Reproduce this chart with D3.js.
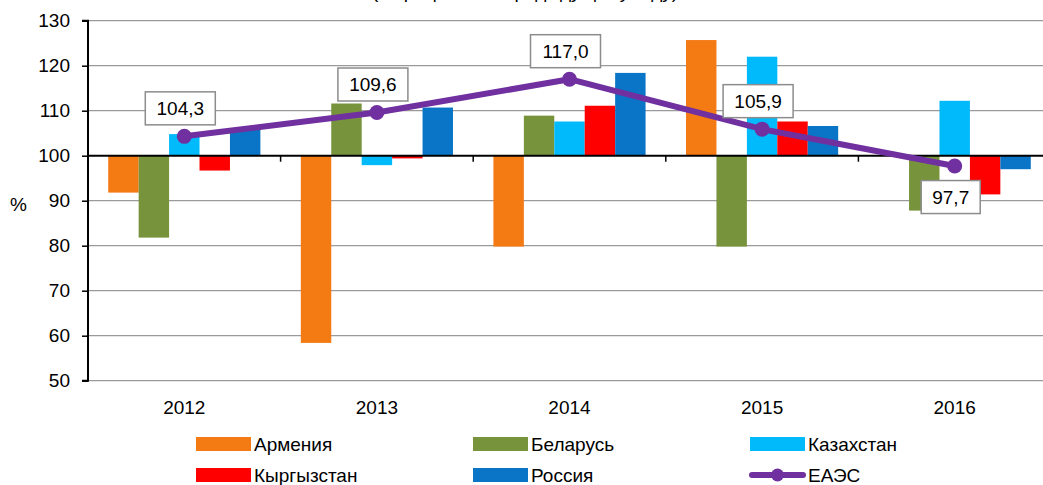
<!DOCTYPE html>
<html>
<head>
<meta charset="utf-8">
<script src="https://cdn.jsdelivr.net/npm/d3@7"></script>
<style>
  body { margin: 0; background: #fff; }
  text { font-family: "Liberation Sans", Arial, sans-serif; fill: #000; }
</style>
</head>
<body>
<script>
// Data
const years = ["2012", "2013", "2014", "2015", "2016"];
const countries = ["Армения", "Беларусь", "Казахстан", "Кыргызстан", "Россия"];
const armenia = [91.8, 58.4, 79.8, 125.7, 100.0];
const belarus = [81.8, 111.6, 108.9, 79.8, 87.8];
const kazakhstan = [104.8, 97.9, 107.6, 122.0, 112.2];
const kyrgyzstan = [96.7, 99.4, 111.1, 107.6, 91.4];
const russia = [106.0, 110.7, 118.4, 106.6, 97.0];
const eaeu = [104.3, 109.6, 117.0, 105.9, 97.7];
const eaeuLabels = ["104,3", "109,6", "117,0", "105,9", "97,7"];
const yTicks = [50, 60, 70, 80, 90, 100, 110, 120, 130];
const colors = ["#F47A14", "#77933C", "#00BAFC", "#FF0000", "#0A75C6"];
const lineColor = "#7030A0";

const seriesValues = [armenia, belarus, kazakhstan, kyrgyzstan, russia];

const width = 1043, height = 485;
const plotLeft = 88, plotRight = 1051, plotTop = 20.7, plotBottom = 380.7;

const svg = d3.select("body").append("svg")
  .attr("width", width)
  .attr("height", height);

// title sits above the visible area, only its descenders show
svg.append("text")
  .attr("x", 525).attr("y", -2)
  .attr("text-anchor", "middle")
  .style("font-size", "19px")
  .text("(в процентах к предыдущему году)");

// Scales
const x0 = d3.scaleBand().domain(years).range([plotLeft, plotRight])
  .paddingInner(0.21).paddingOuter(0.105);
const x1 = d3.scaleBand().domain(countries).range([0, x0.bandwidth()]);
const y = d3.scaleLinear().domain([50, 130]).range([plotBottom, plotTop]);

// Gridlines
svg.append("g").selectAll("line")
  .data(yTicks.filter(d => d !== 100))
  .join("line")
  .attr("x1", plotLeft).attr("x2", plotRight)
  .attr("y1", d => y(d)).attr("y2", d => y(d))
  .attr("stroke", "#9a9a9a")
  .attr("stroke-width", 1.3);

// Bars
const rows = [];
years.forEach((yr, i) => {
  countries.forEach((c, j) => {
    rows.push({ year: yr, country: c, value: seriesValues[j][i], color: colors[j] });
  });
});

svg.append("g").selectAll("rect")
  .data(rows)
  .join("rect")
  .attr("x", d => x0(d.year) + x1(d.country))
  .attr("width", x1.bandwidth())
  .attr("y", d => Math.min(y(d.value), y(100)))
  .attr("height", d => Math.abs(y(d.value) - y(100)))
  .attr("fill", d => d.color);

// Left axis
const yAxis = svg.append("g")
  .attr("transform", `translate(${plotLeft},0)`)
  .call(d3.axisLeft(y).tickValues(yTicks).tickSize(6).tickPadding(12));
yAxis.select(".domain").attr("stroke", "#000").attr("stroke-width", 2)
  .attr("d", `M-6,${y(130)}H0V${y(50)}H-6`);
yAxis.selectAll(".tick line").attr("stroke", "#000").attr("stroke-width", 1.5);
yAxis.selectAll(".tick text")
  .style("font-size", "19px")
  .attr("font-family", null);

// Baseline at 100 with category ticks
const base = svg.append("g").attr("transform", `translate(0,${y(100)})`);
base.append("line")
  .attr("x1", plotLeft).attr("x2", plotRight)
  .attr("stroke", "#000").attr("stroke-width", 2);
base.selectAll("line.tk")
  .data(years.slice(1))
  .join("line")
  .attr("class", "tk")
  .attr("x1", d => x0(d) - x0.step() * x0.paddingInner() / 2)
  .attr("x2", d => x0(d) - x0.step() * x0.paddingInner() / 2)
  .attr("y1", 0).attr("y2", 6)
  .attr("stroke", "#000").attr("stroke-width", 1.5);

// X labels
svg.append("g").selectAll("text")
  .data(years)
  .join("text")
  .attr("x", d => x0(d) + x0.bandwidth() / 2)
  .attr("y", 414)
  .attr("text-anchor", "middle")
  .style("font-size", "19px")
  .text(d => d);

// % label
svg.append("text")
  .attr("x", 10).attr("y", 211)
  .style("font-size", "19px")
  .text("%");

// EAEU line
const cx = (d, i) => x0(years[i]) + x0.bandwidth() / 2;
const line = d3.line().x(cx).y(d => y(d));
svg.append("path")
  .datum(eaeu)
  .attr("d", line)
  .attr("fill", "none")
  .attr("stroke", lineColor)
  .attr("stroke-width", 6)
  .attr("stroke-linejoin", "round");
svg.append("g").selectAll("circle")
  .data(eaeu)
  .join("circle")
  .attr("cx", cx)
  .attr("cy", d => y(d))
  .attr("r", 7.5)
  .attr("fill", lineColor);

// Data labels
const labels = svg.append("g").selectAll("g")
  .data(eaeu)
  .join("g")
  .attr("transform", (d, i) => {
    const below = i === eaeu.length - 1;
    const ly = below ? y(d) + 31 : y(d) - 28;
    return `translate(${cx(d, i) - 4},${ly})`;
  });
labels.append("rect")
  .attr("x", (d, i) => -(eaeuLabels[i].length * 11 + 15) / 2)
  .attr("y", -16.5)
  .attr("width", (d, i) => eaeuLabels[i].length * 11 + 15)
  .attr("height", 33)
  .attr("fill", "#fff")
  .attr("stroke", "#8c8c8c")
  .attr("stroke-width", 1.5);
labels.append("text")
  .attr("text-anchor", "middle")
  .attr("dy", "0.36em")
  .style("font-size", "19px")
  .text((d, i) => eaeuLabels[i]);

// Legend
const legendItems = [
  { name: "Армения", color: colors[0], col: 0, row: 0 },
  { name: "Беларусь", color: colors[1], col: 1, row: 0 },
  { name: "Казахстан", color: colors[2], col: 2, row: 0 },
  { name: "Кыргызстан", color: colors[3], col: 0, row: 1 },
  { name: "Россия", color: colors[4], col: 1, row: 1 },
  { name: "ЕАЭС", color: lineColor, col: 2, row: 1, line: true }
];
const colX = [196, 473, 750];
const rowY = [444, 475];
const lg = svg.append("g").selectAll("g")
  .data(legendItems)
  .join("g")
  .attr("transform", d => `translate(${colX[d.col]},${rowY[d.row]})`);
lg.filter(d => !d.line).append("rect")
  .attr("x", 0).attr("y", -7)
  .attr("width", 55).attr("height", 14)
  .attr("fill", d => d.color);
lg.filter(d => d.line).append("line")
  .attr("x1", 2).attr("x2", 53)
  .attr("stroke", d => d.color)
  .attr("stroke-width", 6)
  .attr("stroke-linecap", "round");
lg.filter(d => d.line).append("circle")
  .attr("cx", 27.5).attr("r", 6.5)
  .attr("fill", d => d.color);
lg.append("text")
  .attr("x", 58)
  .attr("dy", "0.36em")
  .style("font-size", "19px")
  .text(d => d.name);
</script>
</body>
</html>
